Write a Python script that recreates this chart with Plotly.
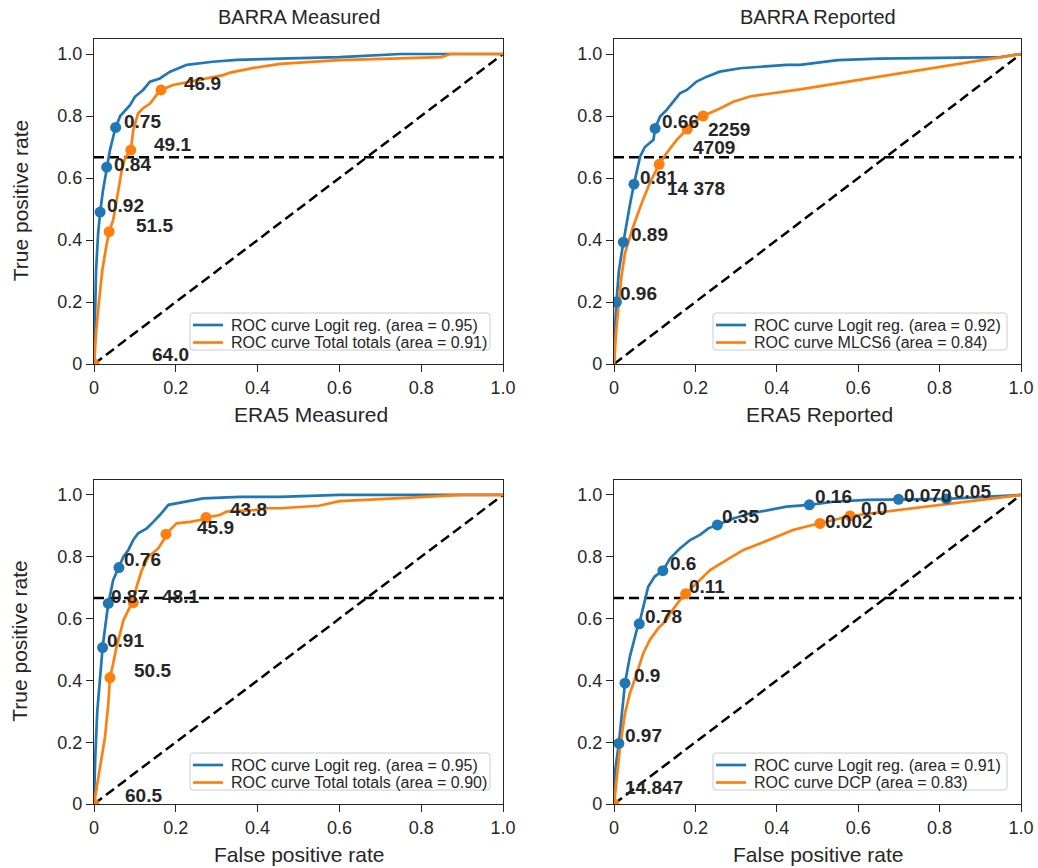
import plotly.graph_objects as go

# ---------------- data ----------------
# Top-left: BARRA Measured vs ERA5 Measured
tl_logit_fpr = [0, 0.002, 0.005, 0.01, 0.015, 0.022, 0.031, 0.039, 0.047, 0.053, 0.064, 0.088, 0.1, 0.12, 0.137, 0.161, 0.186, 0.227, 0.29, 0.349, 0.455, 0.6, 0.75, 1.0]
tl_logit_tpr = [0, 0.15, 0.3, 0.42, 0.49, 0.56, 0.635, 0.69, 0.733, 0.763, 0.80, 0.835, 0.862, 0.884, 0.911, 0.921, 0.943, 0.965, 0.975, 0.981, 0.985, 0.99, 1.0, 1.0]
tl_logit_mk_fpr = [0.015, 0.031, 0.053]
tl_logit_mk_tpr = [0.49, 0.635, 0.763]
tl_logit_mk_lab = ["0.92", "0.84", "0.75"]
tl_tt_fpr = [0, 0.005, 0.012, 0.02, 0.03, 0.037, 0.047, 0.059, 0.068, 0.076, 0.09, 0.096, 0.108, 0.12, 0.137, 0.153, 0.164, 0.193, 0.251, 0.316, 0.333, 0.39, 0.455, 0.6, 0.85, 0.87, 1.0]
tl_tt_tpr = [0, 0.1, 0.2, 0.3, 0.38, 0.427, 0.465, 0.561, 0.626, 0.664, 0.69, 0.755, 0.809, 0.825, 0.84, 0.868, 0.884, 0.9, 0.916, 0.932, 0.94, 0.955, 0.968, 0.98, 0.99, 1.0, 1.0]
tl_tt_mk_fpr = [0, 0.037, 0.09, 0.164]
tl_tt_mk_tpr = [0, 0.427, 0.69, 0.884]
tl_tt_mk_lab = ["64.0", "51.5", "49.1", "46.9"]

# Top-right: BARRA Reported vs ERA5 Reported
tr_logit_fpr = [0, 0.002, 0.006, 0.012, 0.023, 0.03, 0.04, 0.049, 0.055, 0.064, 0.076, 0.097, 0.101, 0.113, 0.129, 0.162, 0.179, 0.203, 0.228, 0.26, 0.31, 0.375, 0.424, 0.457, 0.55, 0.65, 0.95, 1.0]
tr_logit_tpr = [0, 0.1, 0.2, 0.3, 0.393, 0.45, 0.52, 0.58, 0.62, 0.669, 0.70, 0.723, 0.76, 0.798, 0.819, 0.873, 0.884, 0.911, 0.927, 0.943, 0.954, 0.96, 0.965, 0.965, 0.98, 0.985, 0.99, 1.0]
tr_logit_mk_fpr = [0.006, 0.023, 0.049, 0.101]
tr_logit_mk_tpr = [0.2, 0.393, 0.58, 0.76]
tr_logit_mk_lab = ["0.96", "0.89", "0.81", "0.66"]
tr_mlcs_fpr = [0, 0.005, 0.012, 0.018, 0.027, 0.047, 0.068, 0.088, 0.1, 0.111, 0.129, 0.154, 0.18, 0.203, 0.219, 0.252, 0.293, 0.334, 0.457, 1.0]
tr_mlcs_tpr = [0, 0.1, 0.2, 0.28, 0.358, 0.443, 0.519, 0.584, 0.616, 0.644, 0.68, 0.723, 0.758, 0.787, 0.80, 0.819, 0.846, 0.863, 0.886, 1.0]
tr_mlcs_mk_fpr = [0.111, 0.18, 0.219]
tr_mlcs_mk_tpr = [0.644, 0.758, 0.80]
tr_mlcs_mk_lab = ["14 378", "4709", "2259"]

# Bottom-left
bl_logit_fpr = [0, 0.003, 0.008, 0.015, 0.021, 0.028, 0.035, 0.047, 0.061, 0.072, 0.084, 0.096, 0.108, 0.129, 0.145, 0.161, 0.182, 0.21, 0.267, 0.357, 0.455, 0.6, 1.0]
bl_logit_tpr = [0, 0.15, 0.3, 0.42, 0.506, 0.58, 0.649, 0.725, 0.765, 0.80, 0.822, 0.854, 0.876, 0.892, 0.913, 0.935, 0.968, 0.975, 0.989, 0.994, 0.994, 1.0, 1.0]
bl_logit_mk_fpr = [0.021, 0.035, 0.061]
bl_logit_mk_tpr = [0.506, 0.649, 0.765]
bl_logit_mk_lab = ["0.91", "0.87", "0.76"]
bl_tt_fpr = [0, 0.013, 0.027, 0.035, 0.039, 0.047, 0.055, 0.064, 0.072, 0.088, 0.096, 0.104, 0.117, 0.133, 0.157, 0.17, 0.176, 0.186, 0.202, 0.235, 0.259, 0.274, 0.308, 0.324, 0.39, 0.422, 0.455, 0.55, 0.6, 0.75, 0.9, 1.0]
bl_tt_tpr = [0, 0.1, 0.218, 0.325, 0.409, 0.455, 0.509, 0.553, 0.595, 0.638, 0.652, 0.703, 0.757, 0.80, 0.827, 0.854, 0.873, 0.887, 0.908, 0.913, 0.919, 0.927, 0.935, 0.946, 0.951, 0.957, 0.957, 0.965, 0.98, 0.99, 1.0, 1.0]
bl_tt_mk_fpr = [0, 0.039, 0.096, 0.176, 0.274]
bl_tt_mk_tpr = [0, 0.409, 0.652, 0.873, 0.927]
bl_tt_mk_lab = ["60.5", "50.5", "48.1", "45.9", "43.8"]

# Bottom-right
br_logit_fpr = [0, 0.002, 0.012, 0.02, 0.027, 0.039, 0.047, 0.056, 0.062, 0.072, 0.084, 0.1, 0.12, 0.138, 0.162, 0.187, 0.211, 0.232, 0.254, 0.293, 0.334, 0.375, 0.424, 0.48, 0.539, 0.621, 0.699, 0.817, 1.0]
br_logit_tpr = [0, 0.1, 0.196, 0.3, 0.391, 0.477, 0.52, 0.563, 0.583, 0.639, 0.703, 0.736, 0.755, 0.795, 0.827, 0.854, 0.871, 0.892, 0.903, 0.924, 0.94, 0.951, 0.962, 0.968, 0.978, 0.984, 0.986, 0.987, 1.0]
br_logit_mk_fpr = [0.012, 0.027, 0.062, 0.12, 0.254, 0.48, 0.699, 0.817]
br_logit_mk_tpr = [0.196, 0.391, 0.583, 0.755, 0.903, 0.968, 0.986, 0.987]
br_logit_mk_lab = ["0.97", "0.9", "0.78", "0.6", "0.35", "0.16", "0.070", "0.05"]
br_dcp_fpr = [0, 0.015, 0.027, 0.039, 0.056, 0.072, 0.088, 0.109, 0.129, 0.138, 0.162, 0.176, 0.203, 0.236, 0.277, 0.318, 0.359, 0.4, 0.441, 0.473, 0.506, 0.539, 0.58, 1.0]
br_dcp_tpr = [0, 0.185, 0.294, 0.358, 0.423, 0.488, 0.531, 0.569, 0.595, 0.617, 0.66, 0.68, 0.714, 0.757, 0.79, 0.822, 0.843, 0.865, 0.887, 0.898, 0.908, 0.919, 0.932, 1.0]
br_dcp_mk_fpr = [0, 0.176, 0.506, 0.58]
br_dcp_mk_tpr = [0, 0.68, 0.908, 0.932]
br_dcp_mk_lab = ["14.847", "0.11", "0.002", "0.0"]

chance_x = [0, 1]
chance_y = [0, 1]
hline_x = [0, 1]
hline_y = [2 / 3, 2 / 3]

titles = ["BARRA Measured", "BARRA Reported", "", ""]
xlabels = ["ERA5 Measured", "ERA5 Reported", "False positive rate", "False positive rate"]
ylabel = "True positive rate"
legend_names = [
    ["ROC curve Logit reg. (area = 0.95)", "ROC curve Total totals (area = 0.91)"],
    ["ROC curve Logit reg. (area = 0.92)", "ROC curve MLCS6 (area = 0.84)"],
    ["ROC curve Logit reg. (area = 0.95)", "ROC curve Total totals (area = 0.90)"],
    ["ROC curve Logit reg. (area = 0.91)", "ROC curve DCP (area = 0.83)"],
]
tick_vals = [0, 0.2, 0.4, 0.6, 0.8, 1.0]
tick_text = ["0", "0.2", "0.4", "0.6", "0.8", "1.0"]

# ---------------- styles ----------------
BLUE = "#1f77b4"
ORANGE = "#ff7f0e"
INK = "#262626"
FONT = "Liberation Sans, Arial, Helvetica, sans-serif"
W, H = 1038, 868

# pixel shifts of the threshold labels (dx right, dy down)
shifts = {
    "tl_b": [(5, -7), (5, -3), (6, -6)],
    "tl_o": [(56, -9), (25, -6), (21, -6), (21, -6)],
    "tr_b": [(2, -8), (6, -8), (4, -7), (5, -7)],
    "tr_o": [(6, 24), (4, 18), (3, 14)],
    "bl_b": [(2, -7), (1, -7), (3, -8)],
    "bl_o": [(29, -9), (22, -7), (27, -6), (29, -7), (22, -8)],
    "br_b": [(4, -8), (7, -8), (4, -7), (5, -7), (3, -8), (4, -8), (4, -4), (5, -7)],
    "br_o": [(9, -17), (1, -7), (3, -2), (9, -7)],
}

# axes pixel boxes: (left, right, top, bottom)
boxes = [(94, 503, 38.5, 364), (614, 1021, 38.5, 364), (94, 503, 479.5, 804), (614, 1021, 479.5, 804)]
# x-axis label horizontal pixel centres
xlabel_cx = [311, 819, 299, 818]
# legend pixel boxes: (left, right, top, bottom)
legend_boxes = [(190, 490, 313, 350), (713, 1007, 313, 350), (190, 490, 753, 790), (713, 1007, 753, 790)]

panels = [
    (tl_logit_fpr, tl_logit_tpr, tl_logit_mk_fpr, tl_logit_mk_tpr, tl_logit_mk_lab, "tl_b",
     tl_tt_fpr, tl_tt_tpr, tl_tt_mk_fpr, tl_tt_mk_tpr, tl_tt_mk_lab, "tl_o"),
    (tr_logit_fpr, tr_logit_tpr, tr_logit_mk_fpr, tr_logit_mk_tpr, tr_logit_mk_lab, "tr_b",
     tr_mlcs_fpr, tr_mlcs_tpr, tr_mlcs_mk_fpr, tr_mlcs_mk_tpr, tr_mlcs_mk_lab, "tr_o"),
    (bl_logit_fpr, bl_logit_tpr, bl_logit_mk_fpr, bl_logit_mk_tpr, bl_logit_mk_lab, "bl_b",
     bl_tt_fpr, bl_tt_tpr, bl_tt_mk_fpr, bl_tt_mk_tpr, bl_tt_mk_lab, "bl_o"),
    (br_logit_fpr, br_logit_tpr, br_logit_mk_fpr, br_logit_mk_tpr, br_logit_mk_lab, "br_b",
     br_dcp_fpr, br_dcp_tpr, br_dcp_mk_fpr, br_dcp_mk_tpr, br_dcp_mk_lab, "br_o"),
]


def px(x):
    return x / W


def py(y):
    return (H - y) / H


def rounded_rect(l, r, t, b, rad=3):
    return (f"M {px(l + rad)},{py(t)} L {px(r - rad)},{py(t)} Q {px(r)},{py(t)} {px(r)},{py(t + rad)} "
            f"L {px(r)},{py(b - rad)} Q {px(r)},{py(b)} {px(r - rad)},{py(b)} "
            f"L {px(l + rad)},{py(b)} Q {px(l)},{py(b)} {px(l)},{py(b - rad)} "
            f"L {px(l)},{py(t + rad)} Q {px(l)},{py(t)} {px(l + rad)},{py(t)} Z")


fig = go.Figure()
annotations = []
shapes = []
layout = {}

for i, p in enumerate(panels):
    (bf, bt, bmf, bmt, bml, bkey, of, ot, omf, omt, oml, okey) = p
    n = "" if i == 0 else str(i + 1)
    xa, ya = "x" + n, "y" + n
    dash = dict(color="black", width=2.5, dash="10px,5px")
    fig.add_trace(go.Scatter(x=chance_x, y=chance_y, mode="lines", line=dash,
                             xaxis=xa, yaxis=ya, showlegend=False, hoverinfo="skip"))
    fig.add_trace(go.Scatter(x=hline_x, y=hline_y, mode="lines", line=dash,
                             xaxis=xa, yaxis=ya, showlegend=False, hoverinfo="skip"))
    fig.add_trace(go.Scatter(x=bf, y=bt, mode="lines", line=dict(color=BLUE, width=2.7),
                             name=legend_names[i][0], xaxis=xa, yaxis=ya, showlegend=False))
    fig.add_trace(go.Scatter(x=of, y=ot, mode="lines", line=dict(color=ORANGE, width=2.7),
                             name=legend_names[i][1], xaxis=xa, yaxis=ya, showlegend=False))
    fig.add_trace(go.Scatter(x=bmf, y=bmt, mode="markers", marker=dict(color=BLUE, size=11),
                             xaxis=xa, yaxis=ya, showlegend=False))
    fig.add_trace(go.Scatter(x=omf, y=omt, mode="markers", marker=dict(color=ORANGE, size=11),
                             xaxis=xa, yaxis=ya, showlegend=False))
    for (mx, my, ml, key) in ((bmf, bmt, bml, bkey), (omf, omt, oml, okey)):
        for j, (xx, yy, lab) in enumerate(zip(mx, my, ml)):
            dx, dy = shifts[key][j]
            annotations.append(dict(x=xx, y=yy, xref=xa, yref=ya, text=lab, showarrow=False,
                                    xanchor="left", yanchor="middle", xshift=dx, yshift=-dy,
                                    font=dict(family=FONT, size=19, color=INK, weight="bold")))

    l, r, t, b = boxes[i]
    axis_common = dict(showgrid=False, zeroline=False, showline=True, mirror=True,
                       linecolor=INK, linewidth=1.25, ticks="outside", ticklen=7,
                       tickwidth=1.25, tickcolor=INK, tickvals=tick_vals, ticktext=tick_text,
                       automargin=False,
                       tickfont=dict(family=FONT, size=18, color=INK))
    layout["xaxis" + n] = dict(axis_common, domain=[px(l), px(r)], range=[0, 1], anchor=ya)
    layout["yaxis" + n] = dict(axis_common, domain=[py(b), py(t)], range=[0, 1.05], anchor=xa)

    # legend box drawn as shapes + text
    ll, lr, lt, lb = legend_boxes[i]
    shapes.append(dict(type="path", xref="paper", yref="paper", path=rounded_rect(ll, lr, lt, lb),
                       line=dict(color="#cccccc", width=1), fillcolor="rgba(255,255,255,0.85)",
                       layer="above"))
    for k, col in enumerate((BLUE, ORANGE)):
        ry = lt + 12 + k * 17.5
        shapes.append(dict(type="line", xref="paper", yref="paper", x0=px(ll + 3), x1=px(ll + 33),
                           y0=py(ry), y1=py(ry), line=dict(color=col, width=2.7), layer="above"))
        annotations.append(dict(x=px(ll + 39), y=py(ry), xref="paper", yref="paper",
                                text=legend_names[i][k], showarrow=False, xanchor="left",
                                yanchor="middle", font=dict(family=FONT, size=16, color=INK)))

    cx = (l + r) / 2
    if titles[i]:
        annotations.append(dict(x=px(cx), y=py(17), xref="paper", yref="paper",
                                text=titles[i], showarrow=False, xanchor="center", yanchor="middle",
                                font=dict(family=FONT, size=20, color=INK)))
    annotations.append(dict(x=px(xlabel_cx[i]), y=py(b + 50), xref="paper", yref="paper",
                            text=xlabels[i], showarrow=False, xanchor="center", yanchor="middle",
                            font=dict(family=FONT, size=21, color=INK)))
    if i % 2 == 0:
        annotations.append(dict(x=px(20), y=py((t + b) / 2), xref="paper", yref="paper",
                                text=ylabel, showarrow=False, xanchor="center", yanchor="middle",
                                textangle=-90, font=dict(family=FONT, size=21, color=INK)))

fig.update_layout(width=W, height=H, margin=dict(l=0, r=0, t=0, b=0, autoexpand=False),
                  paper_bgcolor="white", plot_bgcolor="white", showlegend=False,
                  annotations=annotations, shapes=shapes, **layout)
fig.write_html("out.html")
